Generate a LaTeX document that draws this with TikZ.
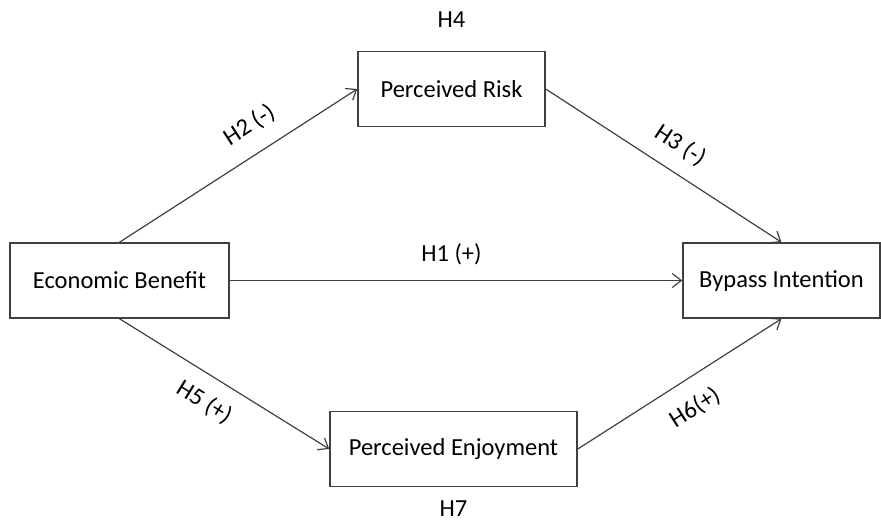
\documentclass[tikz,border=0pt]{standalone}
\usepackage{fontspec}
\setmainfont{Carlito}
\usetikzlibrary{positioning,arrows.meta}
\tikzstyle{construct}=[rectangle, draw=black!75, line width=1.5pt, minimum height=75pt, inner sep=0pt]
\tikzstyle{hyp}=[sloped, inner sep=2pt]
\newcommand{\construct}{\node[construct]}

\begin{document}
\begin{tikzpicture}[x=1pt, y=-1pt, font=\fontsize{24.5}{29}\selectfont,
	every edge/.style={draw=black!75, line width=1.2pt, -{Straight Barb[length=9pt, width=14pt]}}]
	\useasboundingbox (0,0) rectangle (881,523);
	%% the constructs
	\construct[minimum width=219pt] (eb) at (119.5,280.5) {Economic Benefit};
	\construct[minimum width=187pt] (pr) at (451.5,89) {Perceived Risk};
	\construct[minimum width=197pt] (bi) at (781.5,280.5) {Bypass Intention};
	\construct[minimum width=247pt] (pe) at (453.5,449) {Perceived Enjoyment};
	%% mediation labels
	\node[above=20pt of pr] (h4) {H4};
	\node[below=10pt of pe] (h7) {H7};
	%% for the paths
	\path
		(eb.north) edge node[hyp, pos=0.61, above=15pt] {H2 (-)} (pr.west)
		(pr.east) edge node[hyp, pos=0.51, above=13pt] {H3 (-)} (bi.north)
		(eb.east) edge node[pos=0.49, above=12pt] {H1 (+)} (bi.west)
		(eb.south) edge node[hyp, pos=0.47, below=13pt] {H5 (+)} (pe.west)
		(pe.east) edge node[hyp, pos=0.5, below=15pt] {H6(+)} (bi.south)
		;
\end{tikzpicture}
\end{document}
